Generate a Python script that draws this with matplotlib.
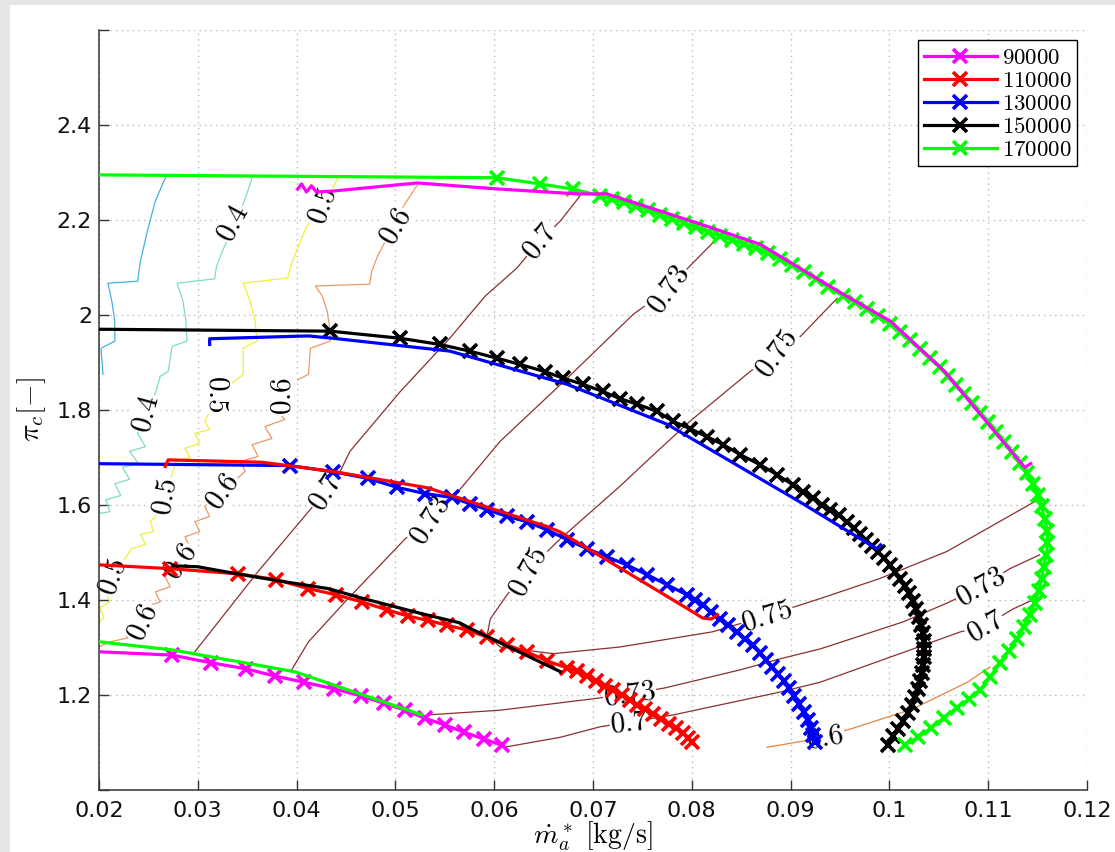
import numpy as np
import matplotlib
matplotlib.use("Agg")
import matplotlib.pyplot as plt
from matplotlib.patches import Rectangle

plt.rcParams['mathtext.fontset'] = 'cm'
plt.rcParams['font.family'] = ['DejaVu Sans']

# measured speed lines (m_dot [kg/s], pi_c [-]), one per shaft speed
n090_meas = [(0.0200,1.291),(0.0274,1.284),(0.0313,1.268),(0.0349,1.255),(0.0378,1.240),(0.0407,1.227),
             (0.0438,1.213),(0.0465,1.198),(0.0488,1.183),(0.0510,1.168),(0.0530,1.151),(0.0550,1.137),
             (0.0569,1.122),(0.0590,1.107),(0.0608,1.094)]
n110_meas = [(0.0200,1.474),(0.0272,1.466),(0.0341,1.455),(0.0379,1.443),(0.0412,1.424),(0.0440,1.411),
             (0.0466,1.396),(0.0492,1.379),(0.0513,1.366),(0.0533,1.357),(0.0552,1.347),(0.0572,1.337),
             (0.0593,1.322),(0.0613,1.305),(0.0633,1.291),(0.0653,1.272),(0.0674,1.257),(0.0684,1.250),
             (0.0694,1.240),(0.0703,1.230),(0.0712,1.220),(0.0720,1.210),(0.0729,1.200),(0.0737,1.190),
             (0.0745,1.180),(0.0753,1.170),(0.0761,1.160),(0.0769,1.150),(0.0777,1.140),(0.0784,1.130),
             (0.0791,1.120),(0.0796,1.110),(0.0800,1.101)]
n130_meas = [(0.0200,1.687),(0.0393,1.683),(0.0437,1.670),(0.0472,1.656),(0.0502,1.637),(0.0530,1.624),
             (0.0557,1.616),(0.0575,1.603),(0.0593,1.590),(0.0613,1.576),(0.0633,1.565),(0.0653,1.548),
             (0.0674,1.527),(0.0694,1.508),(0.0714,1.491),(0.0734,1.474),(0.0755,1.453),(0.0775,1.432),
             (0.0795,1.411),(0.0803,1.400),(0.0811,1.390),(0.0819,1.375),(0.0829,1.360),(0.0837,1.348),
             (0.0846,1.333),(0.0854,1.318),(0.0862,1.306),(0.0869,1.289),(0.0875,1.274),(0.0881,1.259),
             (0.0887,1.244),(0.0893,1.230),(0.0898,1.215),(0.0903,1.198),(0.0908,1.181),(0.0914,1.164),
             (0.0918,1.147),(0.0921,1.130),(0.0923,1.116),(0.0925,1.101)]
n150_meas = [(0.0200,1.970),(0.0434,1.966),(0.0505,1.951),(0.0545,1.938),(0.0575,1.924),(0.0603,1.909),
             (0.0626,1.896),(0.0651,1.881),(0.0670,1.867),(0.0690,1.854),(0.0710,1.839),(0.0727,1.824),
             (0.0745,1.812),(0.0765,1.797),(0.0781,1.776),(0.0798,1.761),(0.0815,1.744),(0.0832,1.727),
             (0.0849,1.706),(0.0869,1.685),(0.0886,1.664),(0.0902,1.643),(0.0913,1.628),(0.0923,1.614),
             (0.0932,1.601),(0.0940,1.590),(0.0949,1.578),(0.0957,1.565),(0.0964,1.552),(0.0970,1.540),
             (0.0976,1.527),(0.0982,1.514),(0.0988,1.502),(0.0995,1.489),(0.1001,1.474),(0.1006,1.460),
             (0.1011,1.445),(0.1016,1.430),(0.1020,1.415),(0.1024,1.398),(0.1027,1.381),(0.1030,1.365),
             (0.1032,1.348),(0.1034,1.331),(0.1035,1.314),(0.1035,1.297),(0.1035,1.280),(0.1034,1.263),
             (0.1033,1.246),(0.1031,1.230),(0.1029,1.213),(0.1026,1.196),(0.1023,1.179),(0.1019,1.162),
             (0.1014,1.145),(0.1009,1.128),(0.1004,1.114),(0.0999,1.095)]
n170_meas = [(0.0200,2.295),(0.0603,2.289),(0.0646,2.276),(0.0680,2.265),(0.0707,2.251),(0.0719,2.244),
             (0.0731,2.238),(0.0744,2.230),(0.0756,2.221),(0.0768,2.211),(0.0780,2.202),(0.0792,2.194),
             (0.0804,2.185),(0.0816,2.175),(0.0829,2.166),(0.0841,2.158),(0.0853,2.149),(0.0865,2.141),
             (0.0877,2.130),(0.0889,2.118),(0.0901,2.105),(0.0914,2.090),(0.0926,2.076),(0.0938,2.059),
             (0.0953,2.040),(0.0965,2.027),(0.0977,2.012),(0.0988,1.998),(0.1001,1.981),(0.1011,1.964),
             (0.1021,1.947),(0.1031,1.928),(0.1041,1.909),(0.1051,1.890),(0.1059,1.871),(0.1067,1.852),
             (0.1076,1.833),(0.1084,1.814),(0.1092,1.793),(0.1100,1.774),(0.1108,1.753),(0.1116,1.732),
             (0.1124,1.711),(0.1132,1.689),(0.1139,1.668),(0.1145,1.645),(0.1150,1.622),(0.1154,1.597),
             (0.1157,1.571),(0.1160,1.546),(0.1160,1.521),(0.1159,1.495),(0.1156,1.470),(0.1154,1.445),
             (0.1151,1.419),(0.1147,1.394),(0.1142,1.369),(0.1136,1.344),(0.1129,1.318),(0.1121,1.293),
             (0.1112,1.268),(0.1102,1.238),(0.1092,1.211),(0.1081,1.192),(0.1068,1.173),(0.1055,1.152),
             (0.1042,1.130),(0.1029,1.111),(0.1016,1.095)]

# model speed lines
n090_model = [(0.0200,1.312),(0.0274,1.295),(0.0398,1.249),(0.0527,1.158)]
n110_model = [(0.0275,1.472),(0.0300,1.470),(0.0340,1.455),(0.0380,1.441),(0.0432,1.424),(0.0466,1.404),
              (0.0525,1.372),(0.0565,1.352),(0.0575,1.341),(0.0667,1.249)]
n130_model = [(0.0267,1.681),(0.0270,1.695),(0.0365,1.690),(0.0439,1.670),(0.0533,1.636),(0.0653,1.555),
              (0.0667,1.543),(0.0801,1.375),(0.0811,1.362),(0.0820,1.360),(0.0826,1.369)]
n150_model = [(0.0312,1.938),(0.0312,1.950),(0.0412,1.956),(0.0437,1.951),(0.0555,1.924),(0.0674,1.854),
              (0.0775,1.770),(0.0909,1.607),(0.0987,1.508),(0.0991,1.516)]
n170_model = [(0.0401,2.265),(0.0405,2.276),(0.0410,2.259),(0.0415,2.272),(0.0420,2.259),(0.0437,2.261),
              (0.0522,2.278),(0.0606,2.265),(0.0684,2.255),(0.0714,2.255),(0.0808,2.192),(0.0869,2.149),
              (0.0909,2.099),(0.0953,2.044),(0.1001,1.987),(0.1056,1.881),(0.1137,1.679),(0.1143,1.687)]

speed_labels = ['90000', '110000', '130000', '150000', '170000']

# efficiency iso-lines
eta03 = [(0.0268,2.293),(0.0257,2.240),(0.0249,2.177),(0.0242,2.114),(0.0239,2.071),(0.0209,2.067),
         (0.0213,2.029),(0.0216,1.987),(0.0216,1.945),(0.0202,1.930),(0.0204,1.875)]
eta04 = [(0.0355,2.289),(0.0349,2.251),(0.0343,2.219),(0.0336,2.187),(0.0325,2.135),(0.0319,2.103),
         (0.0317,2.076),(0.0279,2.067),(0.0285,2.029),(0.0288,1.987),(0.0289,1.945),(0.0274,1.934),
         (0.0270,1.881),(0.0262,1.871),(0.0257,1.835),(0.0247,1.793),(0.0239,1.751),(0.0247,1.723),
         (0.0231,1.713),(0.0240,1.687),(0.0224,1.679),(0.0231,1.654),(0.0216,1.645),(0.0222,1.620),
         (0.0207,1.611),(0.0211,1.586),(0.0200,1.582)]
eta05 = [(0.0442,2.289),(0.0434,2.257),(0.0426,2.230),(0.0414,2.198),(0.0409,2.181),(0.0400,2.135),
         (0.0394,2.103),(0.0391,2.078),(0.0346,2.067),(0.0353,2.029),(0.0358,1.987),(0.0360,1.945),
         (0.0346,1.930),(0.0346,1.875),(0.0320,1.833),(0.0312,1.797),(0.0307,1.776),(0.0312,1.759),
         (0.0297,1.751),(0.0302,1.730),(0.0287,1.719),(0.0292,1.700),(0.0278,1.692),(0.0267,1.618),
         (0.0257,1.576),(0.0252,1.565),(0.0255,1.544),(0.0242,1.538),(0.0247,1.517),(0.0233,1.508),
         (0.0214,1.449),(0.0207,1.417),(0.0211,1.396),(0.0201,1.384),(0.0205,1.362),(0.0200,1.354)]
eta06_a = [(0.0523,2.276),(0.0515,2.251),(0.0505,2.219),(0.0498,2.187),(0.0490,2.156),(0.0482,2.124),
           (0.0476,2.092),(0.0474,2.065),(0.0419,2.061),(0.0426,2.040),(0.0431,2.008),(0.0434,1.966),
           (0.0434,1.945),(0.0414,1.930),(0.0412,1.875),(0.0398,1.860),(0.0386,1.829),(0.0381,1.797),
           (0.0388,1.780),(0.0368,1.765),(0.0375,1.740),(0.0355,1.727),(0.0361,1.702),(0.0343,1.692),
           (0.0348,1.671),(0.0325,1.628),(0.0307,1.597),(0.0312,1.576),(0.0297,1.565),(0.0302,1.544),
           (0.0287,1.533),(0.0292,1.512),(0.0282,1.481),(0.0267,1.449),(0.0272,1.428),(0.0257,1.417),
           (0.0262,1.396),(0.0247,1.386),(0.0242,1.354),(0.0226,1.333),(0.0229,1.320),(0.0211,1.312),
           (0.0200,1.301)]
eta06_b = [(0.0876,1.090),(0.0913,1.103),(0.0935,1.114),(0.0960,1.128),(0.1024,1.171),(0.1079,1.227),
           (0.1102,1.259)]
eta07_a = [(0.0687,2.251),(0.0667,2.198),(0.0646,2.156),(0.0623,2.099),(0.0591,2.040),(0.0555,1.951),
           (0.0505,1.839),(0.0454,1.713),(0.0439,1.649),(0.0429,1.628),(0.0412,1.586),(0.0361,1.460),
           (0.0333,1.386),(0.0297,1.291)]
eta07_b = [(0.0610,1.090),(0.0667,1.111),(0.0707,1.133),(0.0737,1.143),(0.0781,1.158),(0.0889,1.206),
           (0.0930,1.227),(0.1024,1.297),(0.1072,1.333),(0.1097,1.346),(0.1125,1.381),(0.1145,1.400)]
eta073_a = [(0.0826,2.162),(0.0798,2.103),(0.0776,2.054),(0.0741,2.002),(0.0674,1.867),(0.0606,1.734),
            (0.0555,1.607),(0.0535,1.569),(0.0510,1.529),(0.0449,1.396),(0.0412,1.312),(0.0395,1.253)]
eta073_b = [(0.0532,1.158),(0.0606,1.168),(0.0700,1.192),(0.0737,1.202),(0.0773,1.215),(0.0849,1.253),
            (0.0889,1.276),(0.0930,1.297),(0.1014,1.354),(0.1061,1.396),(0.1092,1.428),(0.1122,1.466),
            (0.1152,1.495)]
eta075 = [(0.0947,2.035),(0.0910,1.955),(0.0886,1.919),(0.0859,1.881),(0.0798,1.776),(0.0765,1.713),
          (0.0727,1.639),(0.0667,1.529),(0.0633,1.460),(0.0613,1.411),(0.0596,1.360),(0.0593,1.327),
          (0.0606,1.301),(0.0660,1.287),(0.0727,1.301),(0.0821,1.333),(0.0876,1.367),(0.0930,1.403),
          (0.0990,1.445),(0.1058,1.502),(0.1147,1.607)]

# inline labels of the iso-lines: text, m_dot, pi_c, angle
eta_labels = [('0.4', 0.0335, 2.194, 62), ('0.5', 0.0426, 2.230, 70), ('0.6', 0.0500, 2.187, 60),
              ('0.7', 0.0646, 2.156, 52), ('0.73', 0.0776, 2.054, 55), ('0.75', 0.0886, 1.919, 55),
              ('0.4', 0.0247, 1.793, 75), ('0.5', 0.0320, 1.833, 270), ('0.6', 0.0386, 1.829, 90),
              ('0.5', 0.0267, 1.618, 80), ('0.6', 0.0325, 1.628, 55), ('0.7', 0.0429, 1.628, 58),
              ('0.73', 0.0535, 1.569, 58), ('0.75', 0.0634, 1.460, 62), ('0.5', 0.0214, 1.449, 70),
              ('0.6', 0.0282, 1.481, 55), ('0.6', 0.0244, 1.354, 65), ('0.75', 0.0876, 1.367, 18),
              ('0.73', 0.0737, 1.202, 8), ('0.7', 0.0737, 1.143, 6), ('0.73', 0.1092, 1.428, 30),
              ('0.7', 0.1097, 1.344, 30), ('0.6', 0.0935, 1.111, 10)]

xticks = [0.02, 0.03, 0.04, 0.05, 0.06, 0.07, 0.08, 0.09, 0.10, 0.11, 0.12]
xticklabels = ['0.02', '0.03', '0.04', '0.05', '0.06', '0.07', '0.08', '0.09', '0.1', '0.11', '0.12']
yticks = [1.0, 1.2, 1.4, 1.6, 1.8, 2.0, 2.2, 2.4, 2.6]
yticklabels = ['', '1.2', '1.4', '1.6', '1.8', '2', '2.2', '2.4', '']


fig = plt.figure(figsize=(11.15, 8.52), dpi=100, facecolor='#e6e6e6')
fig.add_artist(Rectangle((10/1115, 0), 1, 1 - 5/852, transform=fig.transFigure,
                         facecolor='white', edgecolor='none', zorder=-10))
ax = fig.add_axes([99/1115, 1 - 790/852, 988/1115, 760/852])

iso = [(eta03, '#45b0e0'), (eta04, '#7fdcc4'), (eta05, '#f0ef3a'), (eta06_a, '#e89a66'),
       (eta06_b, '#e5843f'), (eta07_a, '#8a3030'), (eta07_b, '#8a3030'), (eta073_a, '#8a3030'),
       (eta073_b, '#8a3030'), (eta075, '#8a3030')]
for pts, c in iso:
    p = np.array(pts)
    ax.plot(p[:, 0], p[:, 1], color=c, lw=0.9, zorder=1.5)

for txt, x, y, rot in eta_labels:
    ax.text(x, y, '$' + txt + '$', fontsize=21, rotation=rot, ha='center', va='center',
            rotation_mode='anchor', zorder=1.8,
            bbox=dict(facecolor='white', edgecolor='none', pad=0.5))

meas_colors = ['#ff00ff', '#ff0000', '#0000ff', '#000000', '#00ff00']
handles = []
for pts, c in zip([n090_meas, n110_meas, n130_meas, n150_meas, n170_meas], meas_colors):
    p = np.array(pts)
    # first point sits on the left axis, its marker is not visible there
    h, = ax.plot(p[:, 0], p[:, 1], color=c, lw=2.3, marker='x', ms=10.5, mew=2.6,
                 markevery=slice(1, None), zorder=3)
    handles.append(h)

model_colors = ['#00ff00', '#000000', '#ff0000', '#0000ff', '#ff00ff']
for pts, c in zip([n090_model, n110_model, n130_model, n150_model, n170_model], model_colors):
    p = np.array(pts)
    ax.plot(p[:, 0], p[:, 1], color=c, lw=2.3, zorder=4)

ax.set_xlim(0.02, 0.12)
ax.set_ylim(1.0, 2.6)
ax.set_xticks(xticks)
ax.set_xticklabels(xticklabels)
ax.set_yticks(yticks)
ax.set_yticklabels(yticklabels)
ax.grid(True, color='#b8b8b8', linestyle=(0, (1, 3)), lw=1)
ax.set_axisbelow(True)
for s in ['top', 'right']:
    ax.spines[s].set_visible(False)
for s in ['left', 'bottom']:
    ax.spines[s].set_color('#333333')
    ax.spines[s].set_linewidth(1.1)
ax.tick_params(direction='in', length=7, width=1, colors='#333333', labelcolor='#111111',
               labelsize=16)
ax.tick_params(axis='x', pad=8)
ax.tick_params(axis='y', pad=5)

ax.set_xlabel(r'$\dot{m}_a^*\ [\mathrm{kg/s}]$', fontsize=20, labelpad=-1)
ax.set_ylabel(r'$\pi_c[-]$', fontsize=21, labelpad=6)

leg = ax.legend(handles, ['$' + s + '$' for s in speed_labels], loc='upper right',
                bbox_to_anchor=(0.9899, 0.9868), borderaxespad=0, fontsize=16.5,
                fancybox=False, framealpha=1, edgecolor='black', handlelength=3.2,
                handleheight=0.6, handletextpad=0.2, labelspacing=0.0, borderpad=0.25)
leg.get_frame().set_linewidth(1.0)

fig.savefig('out.png', dpi=100, facecolor=fig.get_facecolor())
